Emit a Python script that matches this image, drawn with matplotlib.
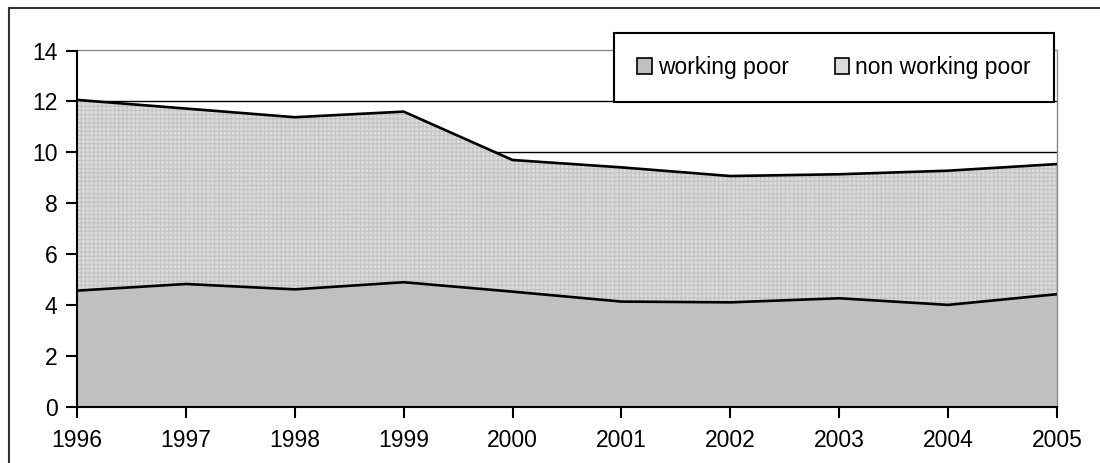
import matplotlib
matplotlib.use("Agg")
import matplotlib.pyplot as plt
from matplotlib.lines import Line2D
from matplotlib.patches import Patch

plt.rcParams['font.family'] = ['Liberation Sans', 'DejaVu Sans']
plt.rcParams['hatch.linewidth'] = 0.9

years = [1996, 1997, 1998, 1999, 2000, 2001, 2002, 2003, 2004, 2005]
working_poor = [4.57, 4.83, 4.62, 4.90, 4.53, 4.14, 4.11, 4.27, 4.01, 4.43]
total_poor = [12.06, 11.72, 11.38, 11.60, 9.70, 9.41, 9.07, 9.14, 9.28, 9.54]
non_working_poor = [t - w for t, w in zip(total_poor, working_poor)]
labels = ["working poor", "non working poor"]
y_ticks = [0, 2, 4, 6, 8, 10, 12, 14]

fig = plt.figure(figsize=(11, 4.63), dpi=100)
ax = fig.add_axes([77/1100, 1-407/463, (1057-77)/1100, (407-50.5)/463])

polys = ax.stackplot(years, working_poor, non_working_poor,
                     colors=['#c0c0c0', '#dcdcdc'], labels=labels, zorder=2,
                     edgecolor='none', linewidth=0)
polys[1].set_hatch('++++')
polys[1].set_edgecolor('#c4c4c4')
polys[1].set_linewidth(0)

ax.plot(years, working_poor, color='black', lw=1.9, zorder=3)
ax.plot(years, total_poor, color='black', lw=1.9, zorder=3)

ax.set_xlim(years[0], years[-1])
ax.set_ylim(0, 14)
ax.set_yticks(y_ticks)
ax.set_xticks(years)
ax.set_xticklabels([str(y) for y in years])
ax.yaxis.grid(True, color='black', lw=1.0, zorder=1)
ax.set_axisbelow(True)
ax.get_ygridlines()[-1].set_visible(False)

for s in ['left', 'bottom']:
    ax.spines[s].set_color('black')
    ax.spines[s].set_linewidth(1.5)
    ax.spines[s].set_zorder(4)
for s in ['top', 'right']:
    ax.spines[s].set_color('#8a8a8a')
    ax.spines[s].set_linewidth(1.0)

ax.tick_params(axis='both', direction='out', length=8, width=1.5, color='black',
               labelsize=16.5, labelcolor='black')
ax.tick_params(axis='y', pad=6)
ax.tick_params(axis='x', pad=8)

handles = [Patch(facecolor='#c0c0c0', edgecolor='black', lw=1.2),
           Patch(facecolor='#dcdcdc', edgecolor='black', lw=1.2)]
leg = ax.legend(handles, labels, ncol=2, loc='center',
                bbox_to_anchor=(611/1100, 1-107/463, 446/1100, 79/463),
                bbox_transform=fig.transFigure,
                fontsize=16.5, frameon=True, fancybox=False, framealpha=1,
                edgecolor='black', borderpad=1.0, handlelength=0.65, handleheight=0.65,
                handletextpad=0.25, columnspacing=2.0, borderaxespad=0)
leg.get_frame().set_linewidth(1.5)
leg.set_zorder(10)

fig.add_artist(Line2D([8.5/1100, 8.5/1100], [0, 1-8/463], color='#333333', lw=1.5,
                      transform=fig.transFigure))
fig.add_artist(Line2D([8.5/1100, 1], [1-8/463, 1-8/463], color='#333333', lw=1.5,
                      transform=fig.transFigure))

fig.savefig('out.png', dpi=100)
